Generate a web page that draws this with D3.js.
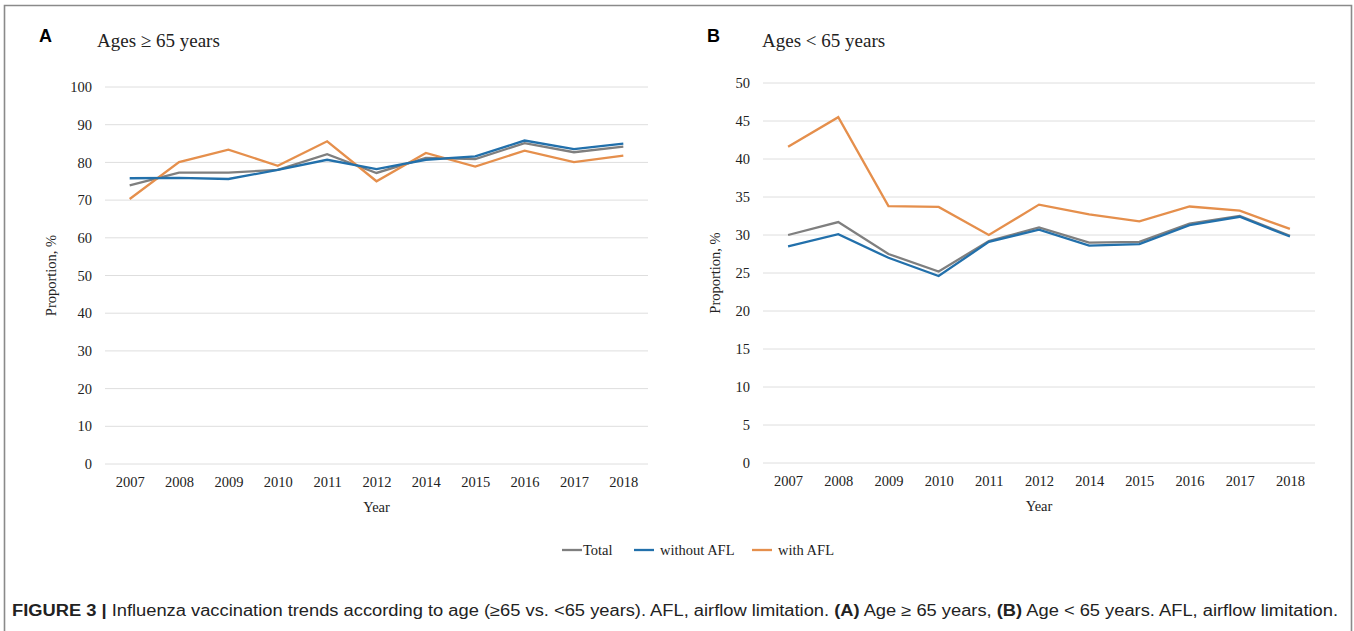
<!DOCTYPE html>
<html>
<head>
<meta charset="utf-8">
<script src="https://cdn.jsdelivr.net/npm/d3@7"></script>
<style>
  html, body { margin: 0; padding: 0; background: #fff; }
  svg { display: block; }
</style>
</head>
<body>
<svg id="fig" width="1354" height="631"></svg>
<script>
// Survey years (2013 not collected)
const years = ["2007", "2008", "2009", "2010", "2011", "2012", "2014", "2015", "2016", "2017", "2018"];

// Panel A: ages >= 65 years, vaccination proportion (%)
const olderTotal   = [73.9, 77.3, 77.3, 78.0, 82.2, 77.2, 81.2, 80.9, 85.1, 82.7, 84.2];
const olderNoAFL   = [75.8, 75.9, 75.6, 78.0, 80.7, 78.2, 80.7, 81.6, 85.8, 83.5, 85.0];
const olderWithAFL = [70.3, 80.1, 83.4, 79.1, 85.6, 75.0, 82.5, 78.9, 83.1, 80.1, 81.8];

// Panel B: ages < 65 years, vaccination proportion (%)
const youngerTotal   = [30.0, 31.7, 27.5, 25.2, 29.2, 31.0, 29.0, 29.1, 31.5, 32.5, 29.9];
const youngerNoAFL   = [28.5, 30.1, 27.0, 24.6, 29.1, 30.7, 28.6, 28.8, 31.3, 32.4, 29.8];
const youngerWithAFL = [41.6, 45.5, 33.8, 33.7, 30.0, 34.0, 32.7, 31.8, 33.75, 33.2, 30.8];

const ticksA = [0, 10, 20, 30, 40, 50, 60, 70, 80, 90, 100];
const ticksB = [0, 5, 10, 15, 20, 25, 30, 35, 40, 45, 50];

const seriesNames = ["Total", "without AFL", "with AFL"];
const colors = { "Total": "#7f7f7f", "without AFL": "#2270ab", "with AFL": "#e58f4c" };

const svg = d3.select("#fig");
const serif = "'Liberation Serif', 'Times New Roman', serif";
const sans = "'Liberation Sans', Arial, sans-serif";
const labelSize = 14.5;

// Figure frame (open at the bottom edge)
svg.append("path")
  .attr("d", "M4.5,631 V5.5 H1351.5 V631")
  .attr("fill", "none")
  .attr("stroke", "#8a8a8a")
  .attr("stroke-width", 1.6);

function panel(cfg) {
  const g = svg.append("g");
  const x = d3.scalePoint().domain(years).range([cfg.left, cfg.right]).padding(0.5);
  const y = d3.scaleLinear().domain([0, cfg.max]).range([cfg.bottom, cfg.top]);

  // panel letter and title
  g.append("text").attr("x", cfg.letterX).attr("y", 42)
    .attr("font-family", sans).attr("font-weight", "bold").attr("font-size", 18)
    .text(cfg.letter);
  g.append("text").attr("x", cfg.titleX).attr("y", 47)
    .attr("font-family", serif).attr("font-size", 19)
    .attr("fill", "#222")
    .text(cfg.title);

  // gridlines + y tick labels
  const yAxis = d3.axisLeft(y).tickValues(cfg.ticks).tickSize(0).tickPadding(13)
    .tickFormat(d3.format("d"));
  const ya = g.append("g").attr("transform", `translate(${cfg.left},0)`).call(yAxis);
  ya.select(".domain").remove();
  ya.selectAll("text").attr("font-family", serif).attr("font-size", labelSize).attr("fill", "#222");
  g.append("g").selectAll("line").data(cfg.ticks).join("line")
    .attr("x1", cfg.left).attr("x2", cfg.right)
    .attr("y1", d => y(d)).attr("y2", d => y(d))
    .attr("stroke", "#dedede").attr("stroke-width", 1);

  // x tick labels
  const xAxis = d3.axisBottom(x).tickSize(0).tickPadding(13);
  const xa = g.append("g").attr("transform", `translate(0,${cfg.bottom})`).call(xAxis);
  xa.select(".domain").remove();
  xa.selectAll("text").attr("font-family", serif).attr("font-size", labelSize).attr("fill", "#222");

  // axis titles
  g.append("text").attr("x", (cfg.left + cfg.right) / 2).attr("y", cfg.bottom + 48)
    .attr("text-anchor", "middle").attr("font-family", serif).attr("font-size", labelSize)
    .attr("fill", "#222").text("Year");
  g.append("text")
    .attr("transform", `translate(${cfg.yTitleX},${(cfg.top + cfg.bottom) / 2}) rotate(-90)`)
    .attr("text-anchor", "middle").attr("font-family", serif).attr("font-size", labelSize)
    .attr("fill", "#222").text("Proportion, %");

  // series lines
  const line = d3.line().x((d, i) => x(years[i])).y(d => y(d));
  cfg.series.forEach(s => {
    g.append("path").datum(s.values)
      .attr("d", line)
      .attr("fill", "none")
      .attr("stroke", colors[s.name])
      .attr("stroke-width", 2.3)
      .attr("stroke-linejoin", "miter");
  });
}

panel({
  letter: "A", letterX: 39, title: "Ages \u2265 65 years", titleX: 97,
  left: 105, right: 648, top: 87, bottom: 464, max: 100, ticks: ticksA, yTitleX: 56,
  series: [
    { name: "Total", values: olderTotal },
    { name: "with AFL", values: olderWithAFL },
    { name: "without AFL", values: olderNoAFL }
  ]
});

panel({
  letter: "B", letterX: 707, title: "Ages < 65 years", titleX: 762,
  left: 763, right: 1315, top: 83, bottom: 463, max: 50, ticks: ticksB, yTitleX: 720,
  series: [
    { name: "with AFL", values: youngerWithAFL },
    { name: "Total", values: youngerTotal },
    { name: "without AFL", values: youngerNoAFL }
  ]
});

// legend
const legendPos = { "Total": 562, "without AFL": 634, "with AFL": 752 };
const lg = svg.append("g");
seriesNames.forEach(n => {
  const x0 = legendPos[n];
  lg.append("line").attr("x1", x0).attr("x2", x0 + 20).attr("y1", 550).attr("y2", 550)
    .attr("stroke", colors[n]).attr("stroke-width", 2.3);
  lg.append("text").attr("x", x0 + (n === "Total" ? 21 : 26)).attr("y", 555)
    .attr("font-family", serif).attr("font-size", labelSize).attr("fill", "#222").text(n);
});

// caption
const cap = svg.append("text").attr("x", 12).attr("y", 616)
  .attr("font-family", sans).attr("font-size", 16).attr("fill", "#222")
  .attr("textLength", 1326).attr("lengthAdjust", "spacingAndGlyphs");
cap.append("tspan").attr("font-weight", "bold").text("FIGURE 3 | ");
cap.append("tspan").text("Influenza vaccination trends according to age (\u226565 vs. <65 years). AFL, airflow limitation. ");
cap.append("tspan").attr("font-weight", "bold").text("(A)");
cap.append("tspan").text(" Age \u2265 65 years, ");
cap.append("tspan").attr("font-weight", "bold").text("(B)");
cap.append("tspan").text(" Age < 65 years. AFL, airflow limitation.");
</script>
</body>
</html>
